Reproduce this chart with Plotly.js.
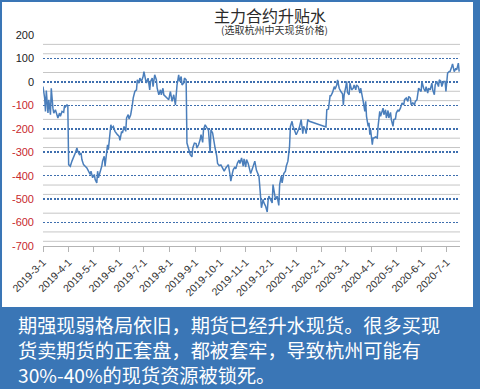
<!DOCTYPE html>
<html><head><meta charset="utf-8">
<script src="https://cdn.plot.ly/plotly-3.0.1.min.js"></script>
<style>html,body{margin:0;padding:0;background:#3a76b6;}#chart{width:480px;height:389px;}</style>
</head><body><div id="chart"></div>
<script>
const dates = [
'2019-03-01','2019-03-03','2019-03-04','2019-03-05','2019-03-07','2019-03-08','2019-03-10','2019-03-11','2019-03-13','2019-03-14',
'2019-03-16','2019-03-18','2019-03-19','2019-03-21','2019-03-22','2019-03-24','2019-03-26','2019-03-27','2019-03-28','2019-03-30',
'2019-03-31','2019-04-01','2019-04-03','2019-04-05','2019-04-07','2019-04-09','2019-04-11','2019-04-12','2019-04-14','2019-04-16',
'2019-04-17','2019-04-19','2019-04-21','2019-04-23','2019-04-25','2019-04-27','2019-04-28','2019-04-30','2019-05-02','2019-05-03',
'2019-05-05','2019-05-06','2019-05-07','2019-05-09','2019-05-11','2019-05-12','2019-05-14','2019-05-15','2019-05-17','2019-05-18',
'2019-05-19','2019-05-21','2019-05-22','2019-05-23','2019-05-25','2019-05-27','2019-05-28','2019-05-30','2019-06-01','2019-06-02',
'2019-06-04','2019-06-05','2019-06-07','2019-06-09','2019-06-10','2019-06-12','2019-06-13','2019-06-15','2019-06-17','2019-06-18',
'2019-06-20','2019-06-22','2019-06-23','2019-06-25','2019-06-26','2019-06-28','2019-06-30','2019-07-01','2019-07-03','2019-07-04',
'2019-07-06','2019-07-08','2019-07-09','2019-07-11','2019-07-12','2019-07-14','2019-07-16','2019-07-17','2019-07-19','2019-07-21',
'2019-07-22','2019-07-24','2019-07-25','2019-07-27','2019-07-29','2019-07-31','2019-08-02','2019-08-04','2019-08-06','2019-08-08',
'2019-08-10','2019-08-12','2019-08-13','2019-08-15','2019-08-16','2019-08-18','2019-08-19','2019-08-21','2019-08-22','2019-08-24',
'2019-08-26','2019-08-28','2019-08-29','2019-08-31','2019-09-02','2019-09-03','2019-09-05','2019-09-07','2019-09-08','2019-09-10',
'2019-09-11','2019-09-13','2019-09-15','2019-09-17','2019-09-19','2019-09-20','2019-09-22','2019-09-23','2019-09-25','2019-09-27',
'2019-09-28','2019-09-30','2019-10-02','2019-10-03','2019-10-05','2019-10-06','2019-10-08','2019-10-10','2019-10-11','2019-10-13',
'2019-10-14','2019-10-16','2019-10-17','2019-10-19','2019-10-20','2019-10-22','2019-10-24','2019-10-25','2019-10-27','2019-10-29',
'2019-10-30','2019-11-01','2019-11-02','2019-11-04','2019-11-06','2019-11-07','2019-11-09','2019-11-10','2019-11-12','2019-11-14',
'2019-11-15','2019-11-17','2019-11-18','2019-11-19','2019-11-20','2019-11-22','2019-11-23','2019-11-25','2019-11-27','2019-11-28',
'2019-11-29','2019-12-01','2019-12-03','2019-12-04','2019-12-06','2019-12-07','2019-12-09','2019-12-11','2019-12-12','2019-12-14',
'2019-12-15','2019-12-17','2019-12-19','2019-12-20','2019-12-22','2019-12-24','2019-12-25','2019-12-27','2019-12-28','2019-12-30',
'2020-01-01','2020-01-02','2020-01-04','2020-01-05','2020-01-07','2020-01-09','2020-01-10','2020-01-12','2020-01-13','2020-01-15',
'2020-01-17','2020-02-06','2020-02-07','2020-02-09','2020-02-11','2020-02-12','2020-02-14','2020-02-16','2020-02-17','2020-02-19',
'2020-02-20','2020-02-21','2020-02-22','2020-02-24','2020-02-26','2020-02-27','2020-02-28','2020-03-01','2020-03-02','2020-03-03',
'2020-03-05','2020-03-06','2020-03-08','2020-03-10','2020-03-11','2020-03-13','2020-03-14','2020-03-16','2020-03-18','2020-03-19',
'2020-03-21','2020-03-22','2020-03-24','2020-03-25','2020-03-26','2020-03-28','2020-03-29','2020-03-30','2020-03-31','2020-04-02',
'2020-04-03','2020-04-04','2020-04-06','2020-04-08','2020-04-09','2020-04-10','2020-04-11','2020-04-12','2020-04-14','2020-04-15',
'2020-04-16','2020-04-18','2020-04-19','2020-04-21','2020-04-22','2020-04-24','2020-04-25','2020-04-27','2020-04-28','2020-04-30',
'2020-05-01','2020-05-03','2020-05-04','2020-05-06','2020-05-08','2020-05-10','2020-05-11','2020-05-13','2020-05-15','2020-05-16',
'2020-05-18','2020-05-19','2020-05-21','2020-05-23','2020-05-24','2020-05-26','2020-05-28','2020-05-29','2020-05-31','2020-06-01',
'2020-06-03','2020-06-05','2020-06-06','2020-06-08','2020-06-09','2020-06-11','2020-06-13','2020-06-14','2020-06-16','2020-06-17',
'2020-06-19','2020-06-21','2020-06-22','2020-06-24','2020-06-25','2020-06-27','2020-06-29','2020-06-30','2020-07-02','2020-07-04',
'2020-07-05','2020-07-07','2020-07-08','2020-07-10','2020-07-12','2020-07-13','2020-07-15','2020-07-16'
];
const basis = [
-20,-69,-126,-37,-133,-76,-140,-27,-112,-133,
-119,-147,-154,-133,-147,-126,-130,-102,-107,-98,
-102,-353,-360,-338,-324,-303,-282,-296,-310,-303,
-331,-353,-360,-367,-381,-395,-381,-409,-395,-416,
-431,-381,-409,-388,-360,-338,-317,-360,-303,-268,
-289,-218,-183,-197,-190,-211,-218,-225,-232,-249,
-211,-218,-190,-211,-154,-140,-158,-140,-98,-69,
-41,-34,9,-5,16,2,23,44,9,-5,
16,-34,2,16,-20,30,9,-27,-55,-34,
-55,-27,-55,-62,-65,-76,-41,-83,-55,-98,
-13,30,2,23,-13,-5,16,9,-261,-289,
-310,-320,-282,-261,-263,-282,-268,-246,-225,-258,
-204,-183,-197,-207,-303,-204,-218,-246,-282,-317,
-348,-357,-354,-360,-371,-381,-367,-357,-353,-395,
-423,-388,-374,-363,-371,-346,-334,-348,-324,-360,
-328,-363,-331,-348,-381,-391,-371,-360,-338,-377,
-388,-402,-445,-513,-537,-501,-516,-530,-555,-508,
-487,-501,-516,-438,-480,-501,-487,-527,-438,-402,
-431,-391,-381,-360,-338,-275,-190,-168,-187,-204,
-225,-218,-204,-193,-161,-221,-190,-204,-221,-161,
-168,-192,-119,-116,-59,-59,-45,-20,-31,-13,
9,-17,-27,-41,-51,-98,-55,-20,2,-45,
-55,-5,-34,-27,-13,-34,-13,-20,-48,-27,
-76,-83,-126,-83,-147,-190,-175,-225,-204,-268,
-239,-239,-235,-239,-190,-161,-126,-147,-126,-112,
-140,-119,-154,-122,-154,-130,-161,-190,-161,-158,
-133,-119,-126,-112,-90,-98,-76,-69,-83,-62,
-69,-98,-90,-98,-83,-76,-27,-34,-41,2,
-27,-41,-20,-48,-27,-34,-5,-34,-55,-13,
2,-20,9,2,-20,2,2,-41,37,44,
44,65,77,44,58,51,80,44
];
const tickDates = ['2019-03-01','2019-04-01','2019-05-01','2019-06-01','2019-07-01','2019-08-01','2019-09-01','2019-10-01','2019-11-01','2019-12-01','2020-01-01','2020-02-01','2020-03-01','2020-04-01','2020-05-01','2020-06-01','2020-07-01'];
const tickLabels = ['2019-3-1','2019-4-1','2019-5-1','2019-6-1','2019-7-1','2019-8-1','2019-9-1','2019-10-1','2019-11-1','2019-12-1','2020-1-1','2020-2-1','2020-3-1','2020-4-1','2020-5-1','2020-6-1','2020-7-1'];
const yTicks = [200,100,0,-100,-200,-300,-400,-500,-600,-700];
const titleText = '主力合约升贴水';
const subtitleText = '(选取杭州中天现货价格)';
const noteLines = ['期强现弱格局依旧，期货已经升水现货。很多买现','货卖期货的正套盘，都被套牢，导致杭州可能有','30%-40%的现货资源被锁死。'];

const yText = yTicks.map(v => v < 0 ? '<span style="color:#c8282d">' + v + '</span>' : String(v));

const shapes = [{type:'rect', xref:'paper', yref:'paper', x0:-0.0983, x1:1.0312, y0:-0.289, y1:1.156,
  fillcolor:'#ffffff', line:{width:0}, layer:'below'}];
for (let v = 160; v >= -680; v -= 40) {
  if (v % 200 === 0 || (v - 80) % 200 === 0) continue;
  shapes.push({type:'line', xref:'paper', yref:'y', x0:0, x1:1, y0:v, y1:v, line:{color:'#c6c6c6', width:1}, layer:'below'});
}

const trace = {x: dates, y: basis, type:'scatter', mode:'lines', line:{color:'#4a7ebb', width:1.5}, hoverinfo:'skip'};

const annotations = [
  {text:titleText, xref:'paper', yref:'paper', x:0.544, y:1.097, xanchor:'center', yanchor:'middle', showarrow:false,
   font:{family:'Noto Sans CJK SC', size:16, color:'#2a2a2a'}},
  {text:subtitleText, xref:'paper', yref:'paper', x:0.554, y:1.024, xanchor:'center', yanchor:'middle', showarrow:false,
   font:{family:'Noto Sans CJK SC', size:10, color:'#333333'}},
  {text:noteLines.join('<br>'), xref:'paper', yref:'paper', x:-0.062, y:-0.493, xanchor:'left', yanchor:'middle',
   align:'left', showarrow:false, borderpad:0, font:{family:'Noto Sans CJK SC', size:19.2, color:'#ffffff'}}
];

const layout = {
  width:480, height:389,
  margin:{l:43, r:20, t:35, b:143},
  paper_bgcolor:'#3a76b6', plot_bgcolor:'#ffffff',
  showlegend:false,
  xaxis:{type:'date', range:['2019-03-01','2020-07-17'], tickvals:tickDates, ticktext:tickLabels, tickangle:-45,
    ticks:'outside', ticklen:5, tickcolor:'#b4b4b4', showline:true, linecolor:'#b4b4b4', linewidth:1,
    showgrid:false, zeroline:false, tickfont:{family:'Liberation Sans', size:10.5, color:'#333333'}},
  yaxis:{range:[-700,200], tickvals:yTicks, ticktext:yText, ticks:'', showline:false, zeroline:false,
    showgrid:true, gridcolor:'#3f6fae', gridwidth:1.5, griddash:'2px,1.5px', ticklabelstandoff:8,
    tickfont:{family:'Liberation Sans', size:11, color:'#222222'}},
  yaxis2:{range:[-700,200], overlaying:'y', tickvals:[200,0,-200,-400,-600], ticks:'outside', ticklen:5,
    tickcolor:'#3f6fae', tickwidth:1.5, showticklabels:false, showgrid:false, zeroline:false, showline:false},
  shapes:shapes,
  annotations:annotations
};
Plotly.newPlot('chart', [trace], layout, {displayModeBar:false, staticPlot:true});
</script></body></html>
